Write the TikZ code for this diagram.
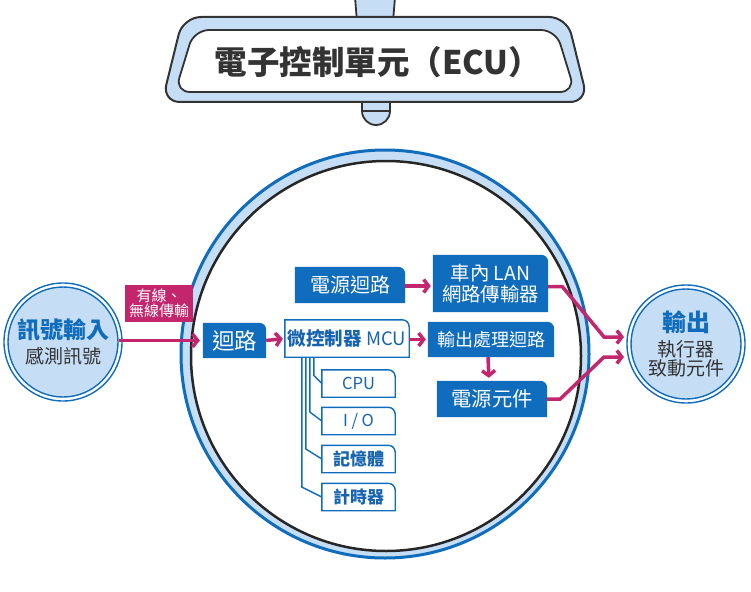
\documentclass[tikz,border=0pt]{standalone}
\usepackage{fontspec}
\setmainfont{Noto Sans CJK TC}
\usetikzlibrary{arrows.meta}
\definecolor{ecublue}{RGB}{16,108,188}
\definecolor{txtblue}{RGB}{22,100,176}
\definecolor{lblue}{RGB}{197,221,245}
\definecolor{mag}{RGB}{196,38,110}
\definecolor{dgray}{RGB}{51,51,51}
\newcommand\fsz[1]{\fontsize{#1}{#1}\selectfont}
\pgfdeclarelayer{bg}
\pgfdeclarelayer{boxes}
\pgfsetlayers{bg,boxes,main}
\begin{document}
\begin{tikzpicture}[x=1pt,y=-1pt,
  solid box/.style={inner sep=0pt, text=white, align=center},
  sub box/.style={inner sep=0pt, text=txtblue, minimum width=73pt, minimum height=27pt},
  sig/.style={draw=mag, line width=3.5pt, -{Straight Barb[length=5pt,width=13pt]}},
  tree/.style={draw=ecublue, line width=1.4pt},
  ring/.style={circle, fill=lblue, draw=ecublue, line width=1.4pt, minimum size=110pt, inner sep=0pt, align=center}
]
\useasboundingbox (0,0) rectangle (751,591);

% ---- background and big circle ----
\begin{pgfonlayer}{bg}
\fill[white] (0,0) rectangle (751,591);
\fill[lblue] (385,354) circle[radius=204pt];
\draw[ecublue, line width=3pt] (385,354) circle[radius=204pt];
\fill[white] (386,356) circle[radius=195pt];
\draw[black!85, line width=2.5pt] (386,356) circle[radius=195pt];
\end{pgfonlayer}

% ---- mirror ----
\filldraw[fill=lblue, draw=dgray, line width=1.8pt] (355,-3) -- (395,-3) -- (393,22) -- (357,22) -- cycle;
\filldraw[fill=lblue, draw=dgray, line width=1.8pt] (362,96) -- (362,111) arc[start angle=180, end angle=360, radius=14pt] -- (390,96) -- cycle;
\draw[dgray, line width=1.8pt] (362,111) -- (390,111);
\filldraw[fill=lblue, draw=dgray, line width=2pt, rounded corners=18pt] (183,17) -- (567,17) -- (588,102) -- (162,102) -- cycle;
\filldraw[fill=white, draw=dgray, line width=1.8pt, rounded corners=15pt] (194,30) -- (556,30) -- (575,92) -- (175,92) -- cycle;
\node[text=dgray, font=\fsz{32.5}\bfseries] (title) at (378,62) {電子控制單元（ECU）};

% ---- side circles ----
\node[ring] (in) at (63,342) {\textcolor{ecublue}{\fsz{23}\bfseries 訊號輸入}\\[5pt]\textcolor{dgray}{\fsz{19}感測訊號}};
\draw[ecublue, line width=1.4pt] (in) circle[radius=59pt];
\node[ring] (out) at (686,344) {\textcolor{ecublue}{\fsz{24}\bfseries 輸出}\\[6pt]\textcolor{dgray}{\fsz{19}執行器}\\[1pt]\textcolor{dgray}{\fsz{19}致動元件}};
\draw[ecublue, line width=1.4pt] (out) circle[radius=59pt];

% ---- label ----
\node[fill=mag, text=white, inner sep=0pt, minimum width=68pt, minimum height=37pt, align=center, font=\fsz{15}] (wire) at (159,303.5) {有線、\\[0pt]無線傳輸};

% ---- boxes ----
\node[solid box, minimum width=63pt, minimum height=35pt, font=\fsz{22.5}] (loop) at (234.5,340.5) {迴路};
\node[solid box, minimum width=110pt, minimum height=36pt, font=\fsz{20}] (power) at (350,285) {電源迴路};
\node[solid box, minimum width=115pt, minimum height=57pt, font=\fsz{19.4}] (lan) at (490.5,283.5) {車內 LAN\\[2pt]網路傳輸器};
\node[inner sep=0pt, minimum width=124pt, minimum height=37pt, text=txtblue, font=\fsz{18.5}] (mcu) at (347,338.5) {\textbf{微控制器} MCU};
\node[solid box, minimum width=126pt, minimum height=35pt, font=\fsz{18}] (outproc) at (491,339.5) {輸出處理迴路};
\node[solid box, minimum width=110pt, minimum height=36pt, font=\fsz{20.3}] (powelem) at (492,399) {電源元件};
\node[sub box, font=\fsz{16.5}] (cpu) at (358.5,383.5) {CPU};
\node[sub box, font=\fsz{16.5}] (io) at (358.5,421) {I / O};
\node[sub box, font=\fsz{17}\bfseries] (mem) at (358.5,459) {記憶體};
\node[sub box, font=\fsz{17}\bfseries] (timer) at (358.5,497) {計時器};

\begin{pgfonlayer}{boxes}
\foreach \n in {loop,power,lan,outproc,powelem}
  \fill[ecublue] (\n.south west) -- (\n.north west) -- ([xshift=-7pt]\n.north east) arc[start angle=90, end angle=0, radius=7pt] -- (\n.south east) -- cycle;
\foreach \n in {mcu,cpu,io,mem,timer}
  \filldraw[fill=white, draw=ecublue, line width=1.4pt] (\n.south west) -- (\n.north west) -- ([xshift=-7pt]\n.north east) arc[start angle=90, end angle=0, radius=7pt] -- (\n.south east) -- cycle;
\end{pgfonlayer}

% ---- tree ----
\draw[tree] ([xshift=29pt]mcu.south west) -- ([xshift=-8pt,yshift=8pt]cpu.west) -- (cpu.west);
\draw[tree] ([xshift=25pt]mcu.south west) -- ([xshift=-12pt,yshift=9pt]io.west) -- (io.west);
\draw[tree] ([xshift=21pt]mcu.south west) -- ([xshift=-16pt,yshift=10pt]mem.west) -- (mem.west);
\draw[tree] ([xshift=17pt]mcu.south west) -- ([xshift=-20pt,yshift=10pt]timer.west) -- (timer.west);

% ---- arrows ----
\coordinate (o1) at (624,337);
\coordinate (o2) at (624,357);
\draw[sig, shorten >=3pt] (in.east |- loop.west) -- (loop.west);
\draw[sig, shorten >=2pt] (loop.east) -- (mcu.west);
\draw[sig, shorten >=2pt] (mcu.east |- outproc.west) -- (outproc.west);
\draw[sig, shorten >=2pt] ([yshift=-1pt]power.east) -- ([yshift=-1pt]power.east -| lan.west);
\draw[sig, shorten >=3pt] ([xshift=-3pt]outproc.south) -- ([xshift=-3pt]powelem.north);
\draw[sig, line join=miter] ([yshift=-3pt]lan.east) -- ++(14,0) -- ([xshift=-20pt]o1) -- (o1);
\draw[sig, line join=miter] (powelem.east) -- ++(13,0) -- ([xshift=-20pt]o2) -- (o2);
\end{tikzpicture}
\end{document}
